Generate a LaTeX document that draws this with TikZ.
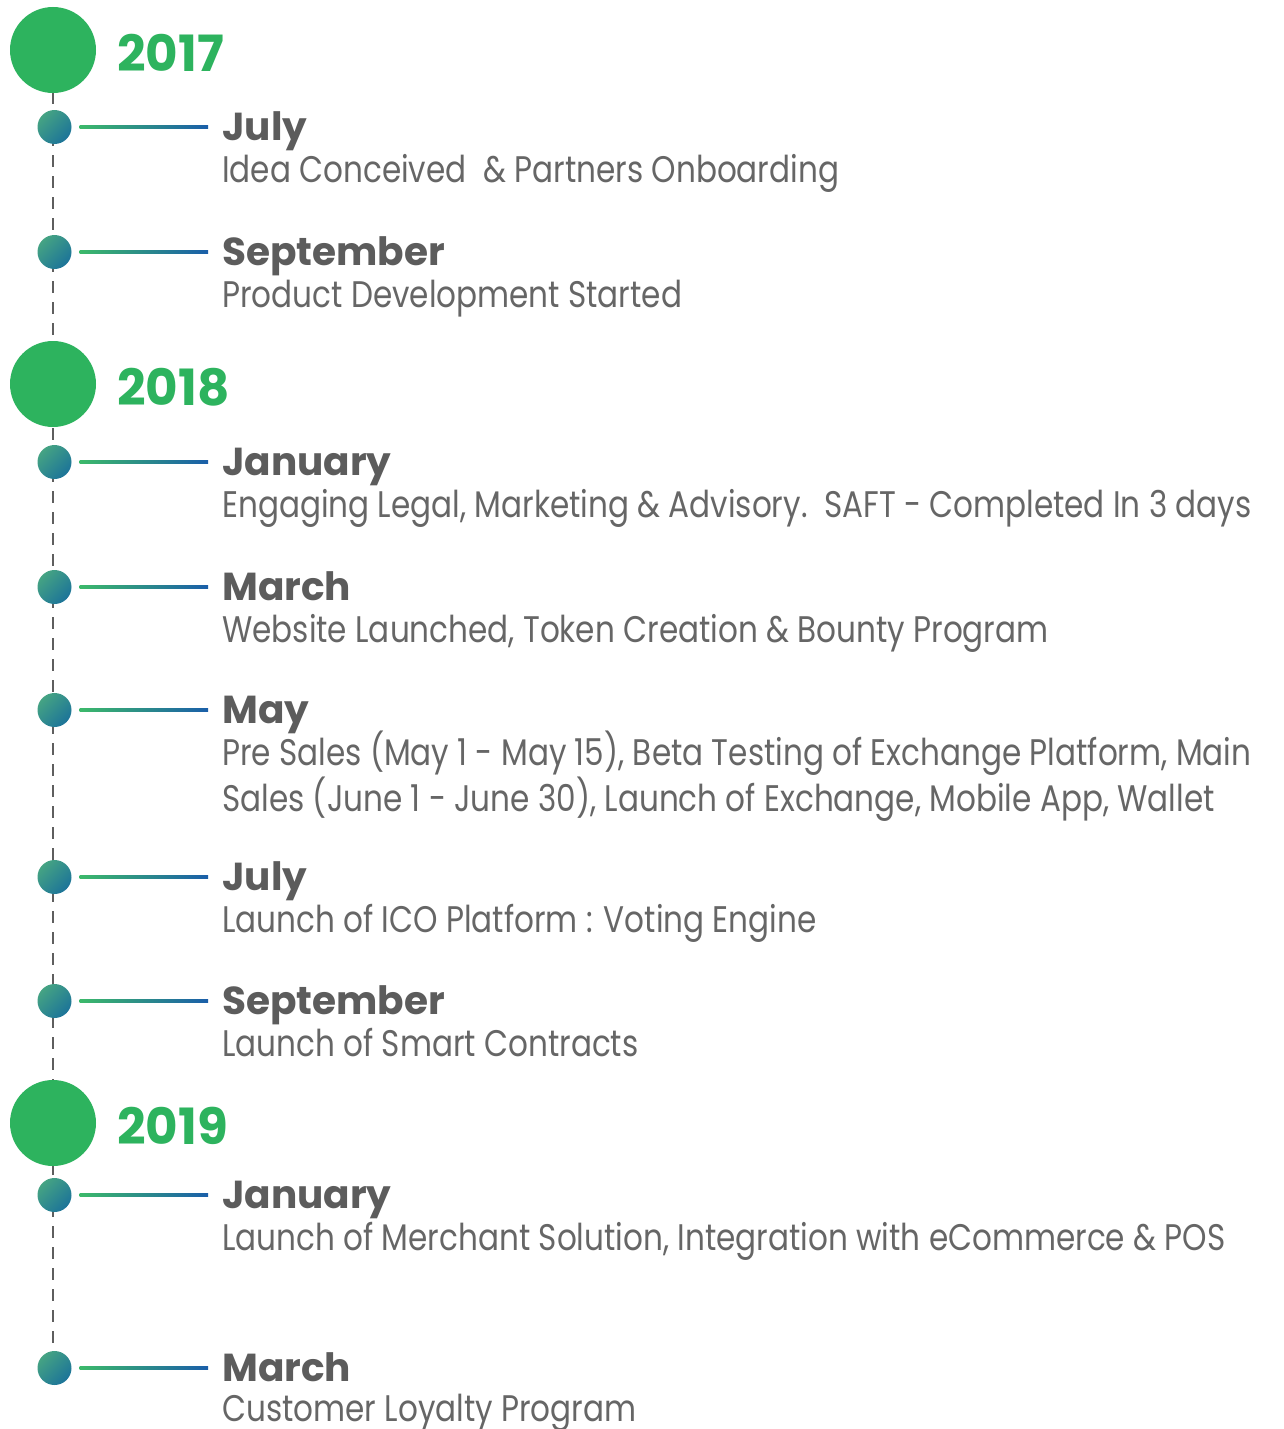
\documentclass[tikz,border=0pt]{standalone}
\usepackage{fontspec}
\setmainfont{Poppins}
\newfontfamily\descfont{Poppins}[FakeStretch=0.84]
\newfontfamily\labfont{Poppins}[FakeStretch=1.0]
\usetikzlibrary{calc}
\definecolor{yeargreen}{HTML}{2DB35E}
\definecolor{txtgray}{HTML}{666666}
\definecolor{labgray}{HTML}{5C5C5C}
\definecolor{dotA}{HTML}{45A383}
\definecolor{dotB}{HTML}{1C7499}
\definecolor{lnA}{HTML}{3CB96A}
\definecolor{lnB}{HTML}{1A5EA9}
\definecolor{dashgray}{HTML}{5E5E5E}
\tikzset{
  bigdot/.style={circle,fill=yeargreen,minimum size=86pt,inner sep=0pt},
  smalldot/.style={circle,inner sep=0pt,minimum size=34pt,left color=dotA,right color=dotB,shading angle=45},
  yeartxt/.style={anchor=base west,inner sep=0pt,text=yeargreen,font=\labfont\bfseries\fontsize{50}{54}\selectfont},
  montxt/.style={anchor=base west,inner sep=0pt,text=labgray,font=\labfont\bfseries\fontsize{39}{42}\selectfont},
  desctxt/.style={anchor=base west,inner sep=0pt,text=txtgray,font=\descfont\fontsize{37}{39}\selectfont,align=left},
  timeline/.style={draw=dashgray,line width=2.8pt,dash pattern=on 12pt off 9pt},
  connshade/.style={left color=lnA,right color=lnB}
}
\newcommand{\evt}[5][0]{% [extra desc offset] name, y, month, description
  \node[smalldot] (#2d) at (54.5,#3) {};
  \coordinate (#2e) at (208,#3);
  \shade[connshade] ($(#2d.east)+(8,-1.5)$) rectangle ($(#2e)+(0,1.5)$);
  \node[montxt] (#2m) at (222,#3+13) {#4};
  \node[desctxt] (#2t) at (222,#3+55+#1) {#5};
}
\begin{document}
\begin{tikzpicture}[x=1pt,y=-1pt]
\useasboundingbox[fill=white] (0,0) rectangle (1284,1429);
\coordinate (tlend) at (53,1368);
\draw[timeline] (53,50) -- (tlend);
\node[bigdot] (y17) at (53,50) {};
\node[yeartxt] (y17t) at (117,71) {2017};
\node[bigdot] (y18) at (53,384) {};
\node[yeartxt] (y18t) at (117,405) {2018};
\node[bigdot] (y19) at (53,1123) {};
\node[yeartxt] (y19t) at (117,1144) {2019};
\evt{a}{127}{July}{Idea Conceived\ \ \& Partners Onboarding}
\evt{b}{252}{September}{Product Development Started}
\evt{c}{462}{January}{Engaging Legal, Marketing \& Advisory.\ \ SAFT - Completed In 3 days}
\evt{d}{587}{March}{Website Launched, Token Creation \& Bounty Program}
\evt[46]{e}{710}{May}{Pre Sales (May 1 - May 15), Beta Testing of Exchange Platform, Main\\Sales (June 1 - June 30), Launch of Exchange, Mobile App, Wallet}
\evt{f}{877}{July}{Launch of ICO Platform : Voting Engine}
\evt{g}{1001}{September}{Launch of Smart Contracts}
\evt{h}{1195}{January}{Launch of Merchant Solution, Integration with eCommerce \& POS}
\evt[-2]{i}{1368}{March}{Customer Loyalty Program}
\end{tikzpicture}
\end{document}
